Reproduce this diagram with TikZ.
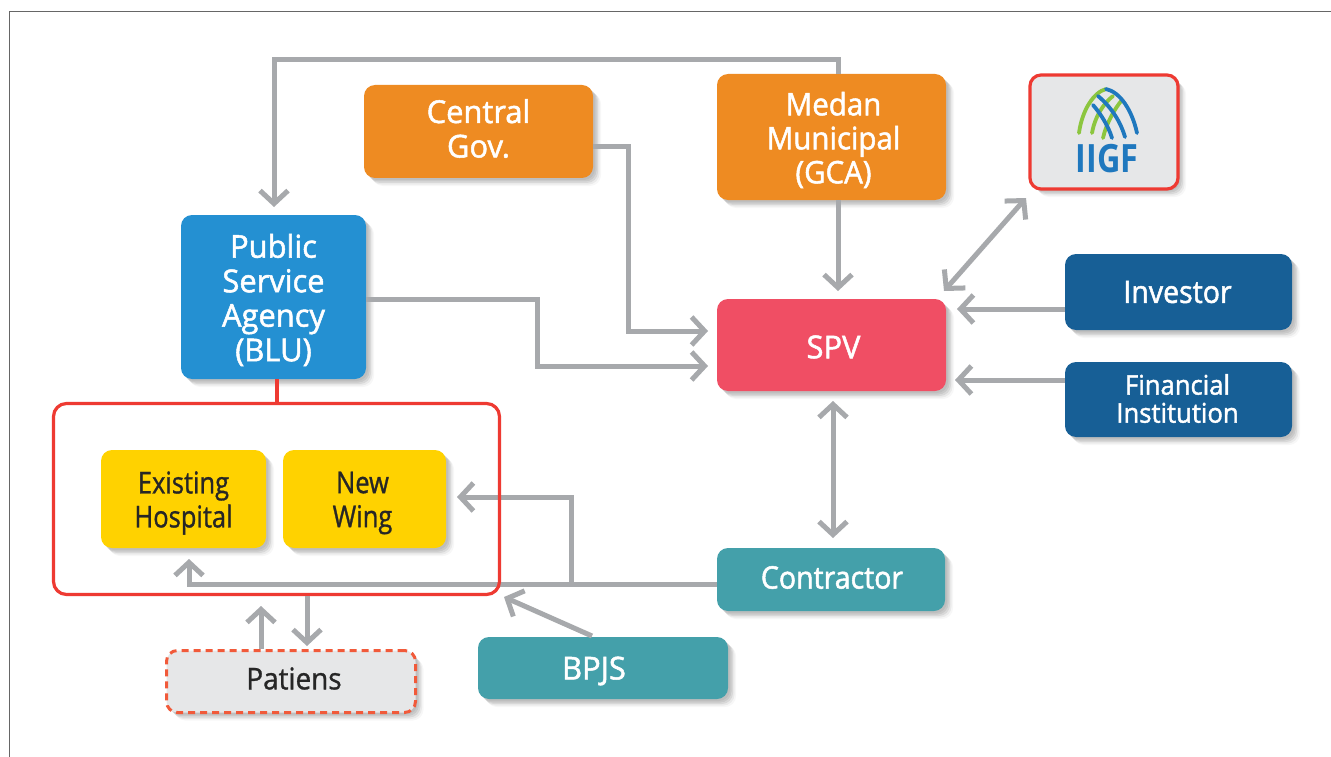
\documentclass[tikz,border=0pt]{standalone}
\usepackage{fontspec}
\setmainfont{Open Sans}
\newfontfamily\fa[FakeStretch=0.98,FakeBold=1.6]{Open Sans}
\newfontfamily\fb[FakeStretch=0.95,FakeBold=1.6]{Open Sans}
\newfontfamily\fc[FakeStretch=0.92,FakeBold=1.6]{Open Sans}
\newfontfamily\fd[FakeStretch=0.85,FakeBold=1.0]{Open Sans}
\newfontfamily\fe[FakeStretch=0.93,FakeBold=1.0]{Open Sans}
\newfontfamily\fl[FakeStretch=0.83]{Open Sans}
\usetikzlibrary{arrows.meta,shadows,calc}
\definecolor{cgray}{HTML}{A7A9AC}
\definecolor{corange}{HTML}{EE8B22}
\definecolor{cblue}{HTML}{2490D2}
\definecolor{cnavy}{HTML}{175F96}
\definecolor{cpink}{HTML}{F04E64}
\definecolor{cyellow}{HTML}{FFD200}
\definecolor{cteal}{HTML}{44A0AA}
\definecolor{cred}{HTML}{EE3A32}
\definecolor{cdash}{HTML}{F15A3A}
\definecolor{clight}{HTML}{E6E7E8}
\definecolor{clogob}{HTML}{1F78BE}
\definecolor{clogog}{HTML}{8CC63F}
\tikzset{
  softshadow/.style={
    drop shadow={shadow xshift=2pt,shadow yshift=-2pt,fill=black,opacity=.05},
    drop shadow={shadow xshift=3.5pt,shadow yshift=-3.5pt,fill=black,opacity=.07},
    drop shadow={shadow xshift=5pt,shadow yshift=-5pt,fill=black,opacity=.07},
    drop shadow={shadow xshift=6.5pt,shadow yshift=-6.5pt,fill=black,opacity=.05},
    drop shadow={shadow xshift=8pt,shadow yshift=-8pt,fill=black,opacity=.03}},
  box/.style={rectangle,rounded corners=11pt,inner sep=0pt,softshadow},
  wt/.style={align=center,text=white,inner sep=0pt},
  dk/.style={align=center,text=black!85,inner sep=0pt},
  fa32/.style={font=\fa\fontsize{31.5}{34.5}\selectfont},
  fb31/.style={font=\fb\fontsize{31}{34}\selectfont},
  fc31/.style={font=\fc\fontsize{31}{34.5}\selectfont},
  fb27/.style={font=\fb\fontsize{27}{28}\selectfont},
  fc30/.style={font=\fd\fontsize{30}{34}\selectfont},
  fb30/.style={font=\fe\fontsize{30}{34}\selectfont},
  link/.style={draw=cgray,line width=5pt,line join=miter},
  arr/.style={link,-{Straight Barb[length=13pt,width=28pt]}},
  darr/.style={link,{Straight Barb[length=13pt,width=28pt]}-{Straight Barb[length=13pt,width=28pt]}},
  logoarc/.style={line width=3.8pt,line cap=round}
}
\begin{document}
\begin{tikzpicture}[x=1pt,y=-1pt]
\useasboundingbox (0,0) rectangle (1331,757);
\fill[white] (0,0) rectangle (1331,757);
\draw[draw=black!60,line width=1.2pt] (9.5,757) -- (9.5,11.5) -- (1331,11.5);

% boxes
\node[box,fill=corange,minimum width=229pt,minimum height=93pt,label={[wt,fa32,yshift=3pt]center:{Central\\Gov.}}] (cg) at (478.5,131.5) {};
\node[box,fill=corange,minimum width=229pt,minimum height=126pt,label={[wt,fb31,yshift=-3pt,xshift=2pt]center:{Medan\\Municipal\\(GCA)}}] (med) at (831.5,137) {};
\node[box,fill=clight,draw=cred,line width=3.2pt,minimum width=148pt,minimum height=114pt] (iigf) at (1104,132) {};
\node[box,fill=cblue,minimum width=185pt,minimum height=164pt,label={[wt,fa32,yshift=-3pt]center:{Public\\Service\\Agency\\(BLU)}}] (blu) at (273.5,297) {};
\node[box,fill=cpink,minimum width=229pt,minimum height=92pt,label={[wt,fa32,yshift=-2pt,xshift=2pt]center:SPV}] (spv) at (831.5,345) {};
\node[box,fill=cnavy,minimum width=227pt,minimum height=76pt,label={[wt,fc31,xshift=-1pt]center:Investor}] (inv) at (1178.5,292) {};
\node[box,fill=cnavy,minimum width=227pt,minimum height=75pt,label={[wt,fb27,yshift=1pt,xshift=-1pt]center:{Financial\\Institution}}] (fin) at (1178.5,399.5) {};
\node[box,fill=cyellow,minimum width=165pt,minimum height=98pt,label={[dk,fc30,yshift=-4pt]center:{Existing\\Hospital}}] (exi) at (183.5,499) {};
\node[box,fill=cyellow,minimum width=163pt,minimum height=98pt,label={[dk,fc30,yshift=-4pt,xshift=-2pt]center:{New\\Wing}}] (new) at (364.5,499) {};
\node[box,fill=cteal,minimum width=228pt,minimum height=63pt,label={[wt,fc31,yshift=2pt,xshift=1pt]center:Contractor}] (con) at (831,579.5) {};
\node[box,fill=cteal,minimum width=250pt,minimum height=62pt,label={[wt,fa32,yshift=-3pt,xshift=-9pt]center:BPJS}] (bpjs) at (603,668) {};
\node[box,fill=clight,draw=cdash,line width=3pt,dash pattern=on 7pt off 5pt,minimum width=249pt,minimum height=62pt,label={[dk,fb30,yshift=3pt,xshift=3pt]center:Patiens}] (pat) at (291,681.5) {};

% logo
\begin{scope}
\draw[logoarc,clogog] (1079,133) .. controls (1082,110) and (1094,92) .. (1106,89);
\draw[logoarc,clogog] (1092,133) .. controls (1095,116) and (1104,103) .. (1113,96);
\draw[logoarc,clogog] (1103,138) .. controls (1106,124) and (1115,108) .. (1122,100);
\draw[logoarc,clogob] (1137,133) .. controls (1132,110) and (1120,92) .. (1106,89);
\draw[logoarc,clogob] (1125,137) .. controls (1120,120) and (1110,106) .. (1098,96);
\draw[logoarc,clogob] (1112,138) .. controls (1108,125) and (1100,113) .. (1093,105);
\end{scope}
\node[inner sep=0pt,text=clogob,font=\fl\bfseries\fontsize{39}{39}\selectfont] (iigft) at (1107,159) {IIGF};

% connectors
\coordinate (c1a) at (838,60);
\coordinate (c1b) at (274,60);
\coordinate (c1c) at (274,207);
\draw[arr] (med.north -| c1a) -- (c1a) -- (c1b) -- (c1c);

\coordinate (c2a) at (628,147);
\coordinate (c2b) at (628,331);
\coordinate (c2c) at (708,331);
\draw[arr] (cg.east |- c2a) -- (c2a) -- (c2b) -- (c2c);

\coordinate (c3) at (838,291);
\draw[arr] (med.south -| c3) -- (c3);

\coordinate (c4a) at (537,299);
\coordinate (c4b) at (537,366);
\coordinate (c4c) at (708,366);
\draw[arr] (blu.east |- c4a) -- (c4a) -- (c4b) -- (c4c);

\coordinate (c5a) at (1026,198);
\coordinate (c5b) at (944,291);
\draw[darr] (c5a) -- (c5b);

\coordinate (c6) at (957,309);
\draw[arr] (inv.west |- c6) -- (c6);
\coordinate (c7) at (955,380);
\draw[arr] (fin.west |- c7) -- (c7);

\coordinate (c8a) at (833,401);
\coordinate (c8b) at (833,538);
\draw[darr] (c8a) -- (c8b);

\coordinate (c9a) at (189,584);
\coordinate (c9b) at (189,559);
\coordinate (c10a) at (571,584);
\coordinate (c10b) at (571,497);
\coordinate (c10c) at (457,497);
\draw[arr] (con.west |- c9a) -- (c9a) -- (c9b);
\draw[arr] (c10a) -- (c10b) -- (c10c);

\coordinate (c11a) at (592,636);
\coordinate (c11b) at (504,597);
\draw[arr] (c11a) -- (c11b);

\node[rectangle,rounded corners=13pt,draw=cred,line width=3.2pt,minimum width=446pt,minimum height=191pt,inner sep=0pt] (hosp) at (276.5,499) {};

\coordinate (c12) at (261,606);
\draw[arr] (pat.north -| c12) -- (c12);
\coordinate (c13) at (307,646);
\draw[arr] (hosp.south -| c13) -- (c13);

\coordinate (c14) at (277,379);
\draw[draw=cred,line width=4pt] (blu.south -| c14) -- (hosp.north -| c14);
\end{tikzpicture}
\end{document}
